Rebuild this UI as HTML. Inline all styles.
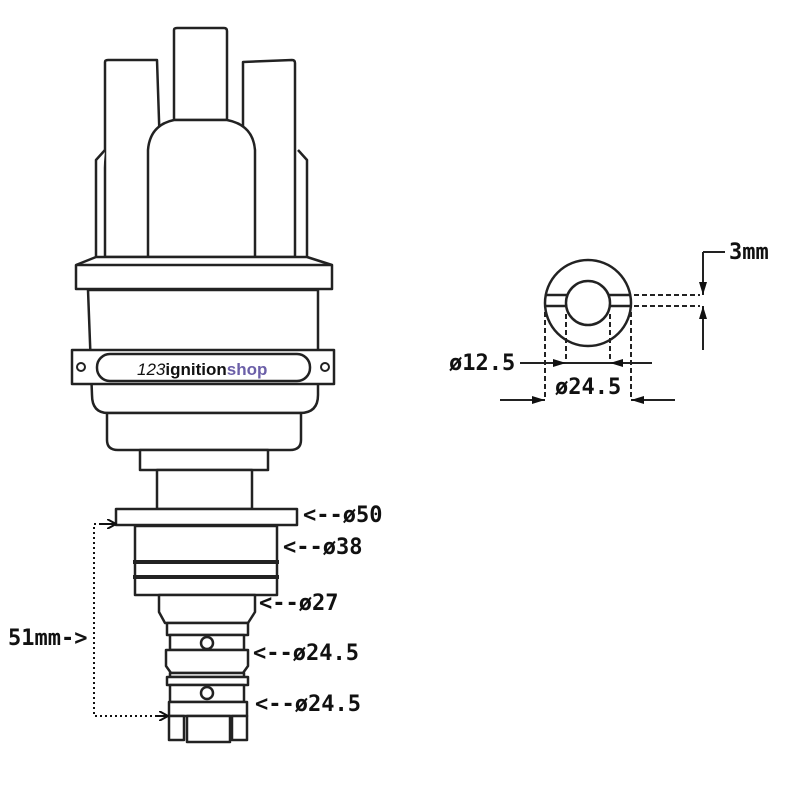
<!DOCTYPE html>
<html><head><meta charset="utf-8"><style>
html,body{margin:0;padding:0;background:#fff;}
svg{display:block;}
text{font-family:"DejaVu Sans Mono","Liberation Mono",monospace;font-weight:bold;font-size:22px;fill:#111;}
</style></head><body>
<svg width="800" height="800" viewBox="0 0 800 800" xmlns="http://www.w3.org/2000/svg">
<defs>
<marker id="ar" markerWidth="10" markerHeight="10" refX="9" refY="5" orient="auto" markerUnits="userSpaceOnUse">
<path d="M0,0 L9,5 L0,10" fill="none" stroke="#111" stroke-width="2"/></marker>
<marker id="af" markerWidth="14" markerHeight="8" refX="13" refY="4" orient="auto" markerUnits="userSpaceOnUse">
<path d="M0,0 L13,4 L0,8 Z" fill="#111"/></marker>
</defs>
<g fill="#fff" stroke="#222" stroke-width="2.5" stroke-linejoin="round">
<path d="M105,257 L105,62 Q105,60 108,60 L157,60 L160,150 L160,257 Z"/>
<path d="M96,257 L96,160 L105,150"/>
<path d="M243,257 L243,62 L292,60 Q295,60 295,63 L295,257 Z"/>
<path d="M307,257 L307,160 L298,150"/>
<path d="M174,120 L174,30 Q174,28 177,28 L224,28 Q227,28 227,31 L227,120 Z"/>
<path d="M148,257 L148,150 Q150,125 174,120 L227,120 Q253,125 255,150 L255,257 Z"/>
<path d="M96,257 L307,257 L332,265 L332,289 L76,289 L76,265 Z"/>
<line x1="76" y1="265" x2="332" y2="265"/>
<path d="M88,290 L318,290 L318,395 Q318,413 300,413 L108,413 Q92,413 92,395 Z"/>
<path d="M107,413 L301,413 L301,440 Q301,450 290,450 L118,450 Q107,450 107,440 Z"/>
<rect x="140" y="450" width="128" height="20"/>
<rect x="157" y="470" width="95" height="39"/>
<rect x="72" y="350" width="262" height="34"/>
<rect x="97" y="354" width="213" height="27" rx="13"/>
<circle cx="81" cy="367" r="4" stroke-width="2"/>
<circle cx="325" cy="367" r="4" stroke-width="2"/>
<rect x="116" y="509" width="181" height="16"/>
<rect x="135" y="526" width="142" height="69"/>
<line x1="133" y1="562" x2="279" y2="562" stroke-width="4"/>
<line x1="133" y1="577" x2="279" y2="577" stroke-width="4"/>
<path d="M159,595 L255,595 L255,612 L248,623 L165,623 L159,612 Z"/>
<rect x="167" y="623" width="81" height="12"/>
<rect x="170" y="635" width="74" height="15"/>
<path d="M166,650 L248,650 L248,666 L243,673 L171,673 L166,666 Z"/>
<rect x="170" y="673" width="74" height="4"/>
<rect x="167" y="677" width="81" height="8"/>
<rect x="170" y="685" width="74" height="17"/>
<rect x="169" y="702" width="78" height="14"/>
<rect x="169" y="716" width="15" height="24"/>
<rect x="232" y="716" width="15" height="24"/>
<rect x="187" y="716" width="43" height="26"/>
<circle cx="207" cy="643" r="6"/>
<circle cx="207" cy="693" r="6"/>
</g>
<text x="137" y="375" style="font-family:'Liberation Sans',sans-serif;font-size:17px;font-weight:normal;" fill="#333"><tspan font-style="italic">123</tspan><tspan font-weight="bold">ignition</tspan><tspan fill="#6b5fa8" font-weight="bold">shop</tspan></text>
<path d="M116,524 L94,524 L94,716 L167,716" fill="none" stroke="#111" stroke-width="2" stroke-dasharray="2,3"/>
<line x1="100" y1="524" x2="116" y2="524" stroke="#111" stroke-width="2" marker-end="url(#ar)"/>
<line x1="155" y1="716" x2="168" y2="716" stroke="#111" stroke-width="2" marker-end="url(#ar)"/>
<text x="8" y="645">51mm-&gt;</text>
<text x="303" y="522">&lt;--ø50</text>
<text x="283" y="554">&lt;--ø38</text>
<text x="259" y="610">&lt;--ø27</text>
<text x="253" y="660">&lt;--ø24.5</text>
<text x="255" y="711">&lt;--ø24.5</text>
<g fill="none" stroke="#222" stroke-width="2.5">
<circle cx="588" cy="303" r="43"/>
<circle cx="588" cy="303" r="22"/>
<line x1="545" y1="295" x2="567" y2="295"/><line x1="545" y1="306" x2="567" y2="306"/>
<line x1="609" y1="295" x2="631" y2="295"/><line x1="609" y1="306" x2="631" y2="306"/>
</g>
<g stroke="#222" stroke-width="2" stroke-dasharray="5,3" fill="none">
<line x1="634" y1="295" x2="700" y2="295"/><line x1="634" y1="306" x2="700" y2="306"/>
<line x1="545" y1="312" x2="545" y2="400"/><line x1="631" y1="312" x2="631" y2="400"/>
<line x1="566" y1="314" x2="566" y2="363"/><line x1="610" y1="314" x2="610" y2="363"/>
</g>
<g stroke="#222" stroke-width="2" fill="none">
<line x1="520" y1="363" x2="566" y2="363" marker-end="url(#af)"/>
<line x1="652" y1="363" x2="610" y2="363" marker-end="url(#af)"/>
<line x1="566" y1="363" x2="610" y2="363"/>
<line x1="500" y1="400" x2="545" y2="400" marker-end="url(#af)"/>
<line x1="675" y1="400" x2="631" y2="400" marker-end="url(#af)"/>
<line x1="703" y1="252" x2="725" y2="252"/>
<line x1="703" y1="252" x2="703" y2="295" marker-end="url(#af)"/>
<line x1="703" y1="350" x2="703" y2="306" marker-end="url(#af)"/>
</g>
<text x="449" y="370">ø12.5</text>
<text x="555" y="394">ø24.5</text>
<text x="729" y="259">3mm</text>
</svg>
</body></html>
